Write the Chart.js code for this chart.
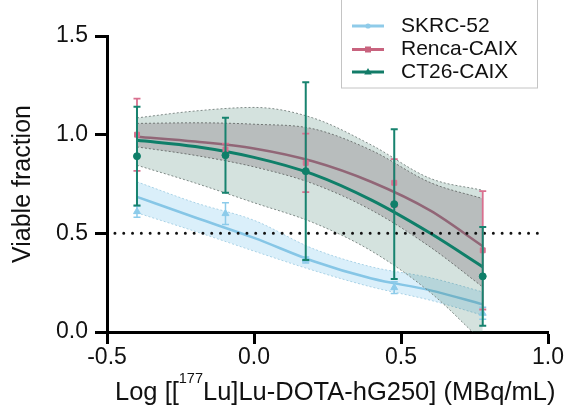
<!DOCTYPE html>
<html>
<head>
<meta charset="utf-8">
<script src="https://cdn.jsdelivr.net/npm/chart.js@4.4.1/dist/chart.umd.min.js"></script>
<style>
html, body { margin: 0; padding: 0; background: #ffffff; }
#wrap { width: 583px; height: 412px; }
</style>
</head>
<body>
<div id="wrap"><canvas id="c" width="583" height="412"></canvas></div>
<script>
// ---------- data ----------
const seriesNames = ['SKRC-52', 'Renca-CAIX', 'CT26-CAIX'];

// measured points: log10 dose (MBq/mL)
const doseLog = [-0.398, -0.097, 0.176, 0.477, 0.778];
const skrcMean = [0.61, 0.60, 0.365, 0.225, 0.095];
const skrcErr = [0.028, 0.055, 0.015, 0.03, 0.03];
const rencaMean = [1.00, 0.925, 0.857, 0.756, 0.414];
const rencaErr = [0.183, 0.03, 0.148, 0.12, 0.30];
const ct26Mean = [0.891, 0.896, 0.815, 0.648, 0.282];
const ct26Err = [0.25, 0.19, 0.45, 0.38, 0.25];

// fitted curves and confidence bands
const curveX = [-0.398, -0.2, 0, 0.2, 0.4, 0.6, 0.778];
const skrcFit = [0.685, 0.58, 0.477, 0.36, 0.271, 0.211, 0.14];
const skrcUpper = [0.761, 0.655, 0.566, 0.423, 0.33, 0.275, 0.203];
const skrcLower = [0.604, 0.51, 0.41, 0.313, 0.228, 0.161, 0.085];
const rencaFit = [0.99, 0.965, 0.93, 0.865, 0.76, 0.615, 0.435];
const rencaUpper = [1.057, 1.06, 1.053, 1.03, 0.92, 0.757, 0.676];
const rencaLower = [0.938, 0.895, 0.837, 0.752, 0.617, 0.43, 0.228];
const ct26Fit = [0.972, 0.94, 0.885, 0.80, 0.668, 0.50, 0.33];
const ct26Upper = [1.085, 1.12, 1.138, 1.085, 0.947, 0.778, 0.718];
const ct26Lower = [0.845, 0.755, 0.655, 0.555, 0.41, 0.2, -0.05];

// 50% reference line
const refX = [-0.473, 0.975];
const refY = [0.5, 0.5];

// axes
const xTickValues = [-0.5, 0, 0.5, 1.0];
const xTickLabels = ['-0.5', '0.0', '0.5', '1.0'];
const yTickValues = [0, 0.5, 1.0, 1.5];
const yTickLabels = ['0.0', '0.5', '1.0', '1.5'];
const yTitle = 'Viable fraction';
const xTitleParts = ['Log [[', '177', 'Lu]Lu-DOTA-hG250] (MBq/mL)'];

// ---------- styling ----------
const FONT = '"Liberation Sans", Arial, Helvetica, sans-serif';
const C_SKRC = '#86c6e6';
const C_SKRC_LEG = '#8fcbe9';
const C_RENCA = '#c06f8a';
const C_RENCA_PT = '#d9708f';
const C_RENCA_LEG = '#c8637e';
const C_CT26 = '#0f7f69';
const C_CT26_LEG = '#127c68';

const pts = (xs, ys) => xs.map((x, i) => ({ x: x, y: ys[i] }));

const curve = (label, xs, ys, color, width, order, extra) => Object.assign({
  label: label, data: pts(xs, ys), borderColor: color, backgroundColor: color,
  borderWidth: width, pointRadius: 0, cubicInterpolationMode: 'monotone',
  fill: false, order: order
}, extra || {});

const datasets = [
  // SKRC band (back-most)
  curve('SKRC upper', curveX, skrcUpper, '#a9d2e6', 1, 100,
    { borderDash: [2, 2], fill: '+1', backgroundColor: 'rgba(120,195,235,0.27)' }),
  curve('SKRC lower', curveX, skrcLower, '#a9d2e6', 1, 99, { borderDash: [2, 2] }),
  curve('SKRC fit', curveX, skrcFit, C_SKRC, 2.5, 90),
  curve('Renca fit', curveX, rencaFit, C_RENCA, 2.5, 85),
  // CT26 band
  curve('CT26 upper', curveX, ct26Upper, '#7f8a87', 1, 80,
    { borderDash: [2, 2], fill: '+1', backgroundColor: 'rgba(40,110,90,0.2)' }),
  curve('CT26 lower', curveX, ct26Lower, '#7f8a87', 1, 79, { borderDash: [2, 2] }),
  // Renca band
  curve('Renca upper', curveX, rencaUpper, '#6f7573', 1, 70,
    { borderDash: [2, 2], fill: '+1', backgroundColor: 'rgba(100,80,90,0.25)' }),
  curve('Renca lower', curveX, rencaLower, '#6f7573', 1, 69, { borderDash: [2, 2] }),
  curve('CT26 fit', curveX, ct26Fit, C_CT26, 3, 60),
  // 0.5 reference line
  { label: 'IC50 line', data: pts(refX, refY), borderColor: '#111', borderWidth: 3,
    borderDash: [0, 8.8], borderCapStyle: 'round', pointRadius: 0, fill: false, order: 50 },
  // measured points
  { label: seriesNames[0], data: pts(doseLog, skrcMean), showLine: false,
    pointStyle: 'triangle', pointRadius: 4, pointBackgroundColor: '#8ccbea', pointBorderColor: '#8ccbea',
    pointBorderWidth: 1, errors: skrcErr, errorColor: '#8ccbea', errorWidth: 1.5, order: 40 },
  { label: seriesNames[1], data: pts(doseLog, rencaMean), showLine: false,
    pointStyle: 'rect', pointRadius: 3.5, pointBackgroundColor: C_RENCA_PT, pointBorderColor: C_RENCA_PT,
    pointBorderWidth: 1, errors: rencaErr, errorColor: C_RENCA_PT, errorWidth: 1.8, order: 30 },
  { label: seriesNames[2], data: pts(doseLog, ct26Mean), showLine: false,
    pointStyle: 'circle', pointRadius: 3.5, pointBackgroundColor: C_CT26, pointBorderColor: C_CT26,
    pointBorderWidth: 1, errors: ct26Err, errorColor: '#17836f', errorWidth: 2, order: 20 }
];

// ---------- plugins ----------
const errorBars = {
  id: 'errorBars',
  beforeDatasetDraw(chart, args) {
    const ds = chart.data.datasets[args.index];
    if (!ds.errors) return;
    const ctx = chart.ctx, xs = chart.scales.x, ys = chart.scales.y;
    ctx.save();
    ctx.strokeStyle = ds.errorColor;
    ctx.lineWidth = ds.errorWidth;
    const cap = 3.5;
    ds.data.forEach((p, i) => {
      const e = ds.errors[i];
      const px = xs.getPixelForValue(p.x);
      const t = ys.getPixelForValue(p.y + e);
      const b = ys.getPixelForValue(p.y - e);
      ctx.beginPath();
      ctx.moveTo(px, t); ctx.lineTo(px, b);
      ctx.moveTo(px - cap, t); ctx.lineTo(px + cap, t);
      ctx.moveTo(px - cap, b); ctx.lineTo(px + cap, b);
      ctx.stroke();
    });
    ctx.restore();
  }
};

const extras = {
  id: 'extras',
  afterDraw(chart) {
    const ctx = chart.ctx;
    ctx.save();
    // x-axis title with superscript
    ctx.fillStyle = '#111';
    ctx.textBaseline = 'alphabetic';
    ctx.textAlign = 'left';
    const base = 400;
    let x = 115;
    ctx.font = '25.5px ' + FONT;
    ctx.fillText(xTitleParts[0], x, base);
    x += ctx.measureText(xTitleParts[0]).width;
    ctx.font = '14.5px ' + FONT;
    ctx.fillText(xTitleParts[1], x, base - 17);
    x += ctx.measureText(xTitleParts[1]).width;
    ctx.font = '25.5px ' + FONT;
    ctx.fillText(xTitleParts[2], x, base);

    // legend box
    ctx.fillStyle = '#ffffff';
    ctx.fillRect(342, 0, 195, 88);
    ctx.strokeStyle = '#c4c4c4';
    ctx.lineWidth = 1;
    ctx.strokeRect(341.5, -1.5, 196, 89.5);
    const legColors = [C_SKRC_LEG, C_RENCA_LEG, C_CT26_LEG];
    const legY = [26, 49.5, 72];
    const styles = ['circle', 'rect', 'triangle'];
    for (let i = 0; i < 3; i++) {
      const y = legY[i];
      ctx.strokeStyle = legColors[i];
      ctx.fillStyle = legColors[i];
      ctx.lineWidth = 3;
      ctx.beginPath();
      ctx.moveTo(352, y); ctx.lineTo(384, y);
      ctx.stroke();
      const mx = 368;
      ctx.beginPath();
      if (styles[i] === 'circle') { ctx.arc(mx, y, 2.6, 0, Math.PI * 2); ctx.fill(); }
      else if (styles[i] === 'rect') { ctx.fillRect(mx - 3, y - 3, 6, 6); }
      else { ctx.moveTo(mx, y - 4); ctx.lineTo(mx + 3.8, y + 2.5); ctx.lineTo(mx - 3.8, y + 2.5); ctx.closePath(); ctx.fill(); }
      ctx.fillStyle = '#111';
      ctx.font = '21px ' + FONT;
      ctx.textBaseline = 'middle';
      ctx.fillText(seriesNames[i], 401, y);
    }
    ctx.restore();
  }
};

// ---------- chart ----------
new Chart(document.getElementById('c'), {
  type: 'line',
  data: { datasets: datasets },
  options: {
    responsive: false,
    animation: false,
    events: [],
    devicePixelRatio: 1,
    layout: { padding: { left: 0, right: 35, top: 36, bottom: 0 } },
    plugins: { legend: { display: false }, tooltip: { enabled: false }, title: { display: false } },
    scales: {
      x: {
        type: 'linear', min: -0.5, max: 1.0,
        afterBuildTicks: s => { s.ticks = xTickValues.map(v => ({ value: v })); },
        afterFit: s => { s.height = 80; },
        ticks: {
          callback: (v) => xTickLabels[xTickValues.indexOf(v)],
          font: { family: FONT, size: 23 }, color: '#111', padding: 0, maxRotation: 0, autoSkip: false
        },
        grid: { drawOnChartArea: false, drawTicks: true, tickLength: 12, tickWidth: 3, tickColor: '#000' },
        border: { display: true, width: 3, color: '#000' },
        title: { display: false }
      },
      y: {
        type: 'linear', min: 0, max: 1.5,
        afterBuildTicks: s => { s.ticks = yTickValues.map(v => ({ value: v })); },
        afterFit: s => { s.width = 107; },
        ticks: {
          callback: (v) => yTickLabels[yTickValues.indexOf(v)],
          font: { family: FONT, size: 23 }, color: '#111', padding: 7, autoSkip: false
        },
        grid: { drawOnChartArea: false, drawTicks: true, tickLength: 12, tickWidth: 3, tickColor: '#000' },
        border: { display: true, width: 3, color: '#000' },
        title: { display: true, text: yTitle, color: '#111', font: { family: FONT, size: 25 }, padding: { top: 8, bottom: 0 } }
      }
    }
  },
  plugins: [errorBars, extras]
});
</script>
</body>
</html>
